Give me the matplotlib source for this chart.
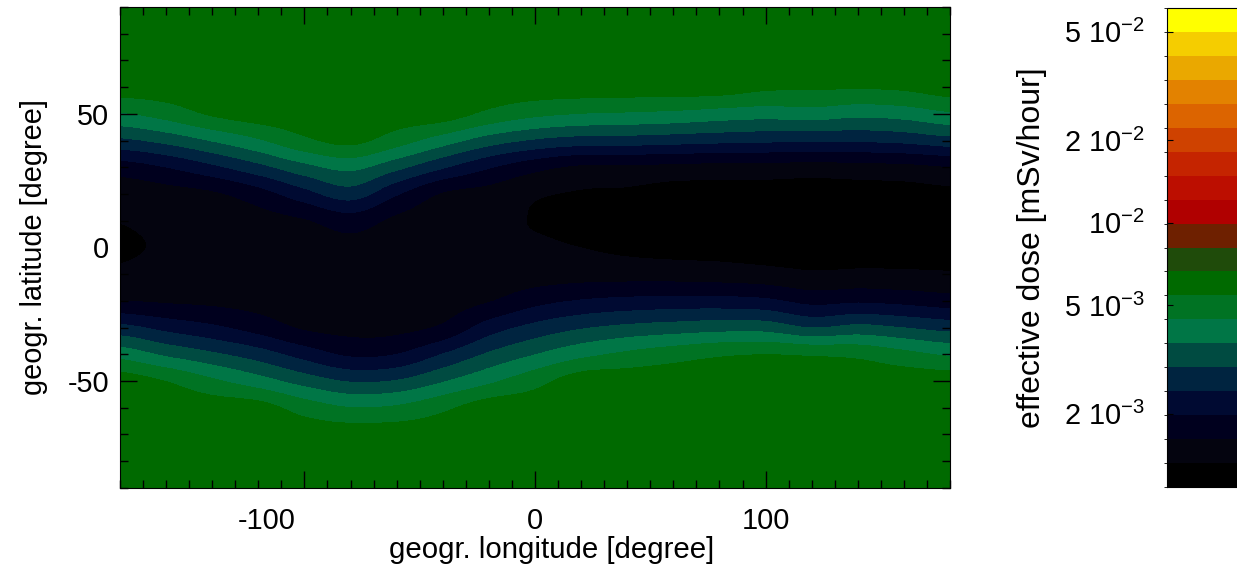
import numpy as np
import matplotlib
matplotlib.use('Agg')
import matplotlib.pyplot as plt
from matplotlib.colors import ListedColormap, BoundaryNorm
from matplotlib.transforms import ScaledTranslation

plt.rcParams['font.family'] = 'Liberation Sans'
plt.rcParams['mathtext.fontset'] = 'custom'
plt.rcParams['mathtext.rm'] = 'Liberation Sans'
plt.rcParams['mathtext.it'] = 'Liberation Sans:italic'
plt.rcParams['axes.unicode_minus'] = False

# grid nodes
lon = np.arange(-180, 181, 20)
lat = np.arange(-90, 91, 10)

# effective dose in 10^-3 mSv/hour, one list per longitude, latitude -90 .. 90
dose_m180 = [6.00, 6.00, 6.00, 6.00, 6.00, 4.10, 2.58, 1.62, 1.37, 1.29, 1.33, 1.43, 1.81, 2.88, 4.41, 6.00, 6.00, 6.00, 6.00]
dose_m160 = [6.00, 6.00, 6.00, 6.00, 5.42, 3.51, 2.28, 1.58, 1.42, 1.35, 1.40, 1.50, 2.00, 3.19, 4.87, 6.00, 6.00, 6.00, 6.00]
dose_m140 = [6.00, 6.00, 6.00, 6.00, 4.62, 3.08, 2.06, 1.55, 1.43, 1.40, 1.45, 1.58, 2.34, 3.72, 5.61, 6.00, 6.00, 6.00, 6.00]
dose_m120 = [6.00, 6.00, 6.00, 5.88, 3.97, 2.68, 1.82, 1.50, 1.41, 1.41, 1.50, 1.82, 2.81, 4.37, 6.00, 6.00, 6.00, 6.00, 6.00]
dose_m100 = [6.00, 6.00, 6.00, 5.00, 3.34, 2.23, 1.58, 1.44, 1.40, 1.45, 1.60, 2.26, 3.43, 5.24, 6.00, 6.00, 6.00, 6.00, 6.00]
dose_m80 = [6.00, 6.00, 6.00, 4.48, 2.93, 1.92, 1.52, 1.44, 1.44, 1.51, 1.80, 2.69, 3.85, 5.75, 6.00, 6.00, 6.00, 6.00, 6.00]
dose_m60 = [6.00, 6.00, 6.00, 4.60, 3.02, 1.99, 1.53, 1.43, 1.40, 1.44, 1.55, 2.04, 3.17, 4.91, 6.00, 6.00, 6.00, 6.00, 6.00]
dose_m40 = [6.00, 6.00, 6.00, 5.22, 3.58, 2.45, 1.68, 1.47, 1.39, 1.38, 1.44, 1.60, 2.51, 4.04, 6.00, 6.00, 6.00, 6.00, 6.00]
dose_m20 = [6.00, 6.00, 6.00, 6.00, 4.28, 3.06, 2.19, 1.60, 1.43, 1.36, 1.38, 1.50, 2.04, 3.32, 5.21, 6.00, 6.00, 6.00, 6.00]
dose_0 = [6.00, 6.00, 6.00, 6.00, 5.07, 3.62, 2.59, 1.85, 1.46, 1.36, 1.31, 1.36, 1.74, 2.93, 4.70, 6.00, 6.00, 6.00, 6.00]
dose_20 = [6.00, 6.00, 6.00, 6.00, 6.00, 4.20, 2.91, 2.01, 1.49, 1.32, 1.26, 1.30, 1.58, 2.75, 4.47, 6.00, 6.00, 6.00, 6.00]
dose_40 = [6.00, 6.00, 6.00, 6.00, 6.00, 4.63, 3.12, 2.09, 1.49, 1.27, 1.22, 1.28, 1.58, 2.73, 4.38, 6.00, 6.00, 6.00, 6.00]
dose_60 = [6.00, 6.00, 6.00, 6.00, 6.00, 4.98, 3.25, 2.13, 1.48, 1.24, 1.18, 1.22, 1.55, 2.66, 4.28, 6.00, 6.00, 6.00, 6.00]
dose_80 = [6.00, 6.00, 6.00, 6.00, 6.00, 5.29, 3.36, 2.13, 1.46, 1.23, 1.17, 1.21, 1.53, 2.59, 4.10, 6.00, 6.00, 6.00, 6.00]
dose_100 = [6.00, 6.00, 6.00, 6.00, 6.00, 5.42, 3.34, 2.06, 1.42, 1.20, 1.15, 1.20, 1.53, 2.54, 3.98, 5.65, 6.00, 6.00, 6.00]
dose_120 = [6.00, 6.00, 6.00, 6.00, 6.00, 5.31, 2.96, 1.86, 1.36, 1.18, 1.15, 1.19, 1.50, 2.51, 4.07, 5.60, 6.00, 6.00, 6.00]
dose_140 = [6.00, 6.00, 6.00, 6.00, 6.00, 5.17, 3.15, 1.92, 1.38, 1.19, 1.15, 1.20, 1.53, 2.51, 3.87, 5.55, 6.00, 6.00, 6.00]
dose_160 = [6.00, 6.00, 6.00, 6.00, 6.00, 4.72, 2.96, 1.86, 1.37, 1.20, 1.16, 1.22, 1.55, 2.59, 4.00, 5.65, 6.00, 6.00, 6.00]
dose_180 = [6.00, 6.00, 6.00, 6.00, 6.00, 4.33, 2.76, 1.77, 1.35, 1.20, 1.18, 1.26, 1.62, 2.78, 4.36, 6.00, 6.00, 6.00, 6.00]

# colour levels (mSv/hour), log spaced
dose_min = 1.08e-3
dose_max = 6.1e-2
n_bands = 20
band_colors = ['#000000', '#04040f', '#00001e', '#000a32', '#002440',
               '#004b41', '#007646', '#007323', '#006a00', '#1f4b0a',
               '#6e2000', '#b00000', '#bc0e00', '#c52400', '#cf4200',
               '#dc6400', '#e38200', '#eaa800', '#f5cd00', '#ffff00']

cbar_ticks = [2e-3, 5e-3, 1e-2, 2e-2, 5e-2]
cbar_labels = ['2 10$^{-3}$', '5 10$^{-3}$', '10$^{-2}$', '2 10$^{-2}$', '5 10$^{-2}$']

columns = [dose_m180, dose_m160, dose_m140, dose_m120, dose_m100, dose_m80, dose_m60,
           dose_m40, dose_m20, dose_0, dose_20, dose_40, dose_60, dose_80, dose_100,
           dose_120, dose_140, dose_160, dose_180]
field = np.log10(np.array(columns).T * 1e-3)

levels = np.logspace(np.log10(dose_min), np.log10(dose_max), n_bands + 1)
cmap = ListedColormap(band_colors).with_extremes(under=band_colors[0], over=band_colors[-1])
norm = BoundaryNorm(np.log10(levels), cmap.N)

fs = 20.8
fig = plt.figure(figsize=(12.37, 5.71), dpi=100)
ax = fig.add_axes([0.097, 0.1455, 0.671, 0.8424])
cax = fig.add_axes([0.9434, 0.147, 0.07, 0.839])

im = ax.imshow(field, origin='lower', aspect='auto', cmap=cmap, norm=norm,
               extent=[lon[0] - 10, lon[-1] + 10, lat[0] - 5, lat[-1] + 5],
               interpolation='catrom', interpolation_stage='data')
ax.set_xlim(-180, 180)
ax.set_ylim(-90, 90)
ax.set_xticks([-100, 0, 100])
ax.set_yticks([-50, 0, 50])
ax.set_xticks(np.arange(-180, 181, 10), minor=True)
ax.set_yticks(np.arange(-90, 91, 10), minor=True)
ax.tick_params(which='both', direction='in', top=True, right=True, labelsize=fs)
ax.tick_params(which='major', length=12, width=1)
ax.tick_params(which='minor', length=6, width=1)
ax.tick_params(axis='x', pad=14)
ax.tick_params(axis='y', pad=8)

# the negative longitude label sits left of its tick
fig.canvas.draw()
neg_label = ax.get_xticklabels()[0]
neg_label.set_transform(neg_label.get_transform() + ScaledTranslation(-0.38, 0, fig.dpi_scale_trans))

ax.set_xlabel('geogr. longitude [degree]', fontsize=21.2)
ax.xaxis.set_label_coords(0.52, -0.1)
ax.set_ylabel('geogr. latitude [degree]', fontsize=fs, labelpad=14)

cb = fig.colorbar(im, cax=cax, ticks=np.log10(cbar_ticks))
cb.ax.set_yticklabels(cbar_labels)
cb.ax.yaxis.set_ticks_position('left')
cb.ax.yaxis.set_label_position('left')
cb.ax.tick_params(direction='in', length=4, pad=16, labelsize=fs)
cb.outline.set_linewidth(0.8)
cb.set_label('effective dose [mSv/hour]', fontsize=23, labelpad=12)

fig.savefig('out.png', dpi=100)
